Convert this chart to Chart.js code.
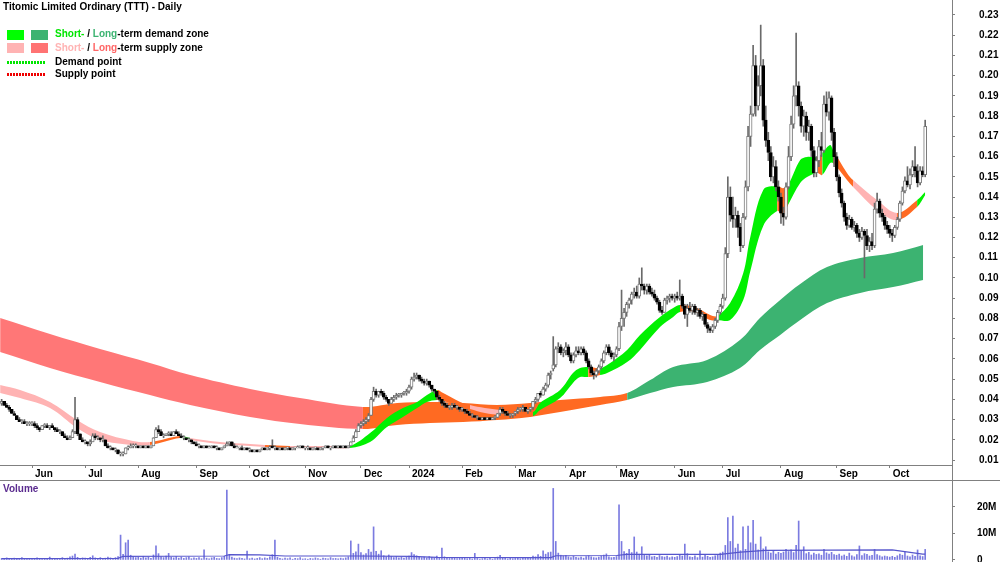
<!DOCTYPE html>
<html>
<head>
<meta charset="utf-8">
<title>Titomic Limited Ordinary (TTT) - Daily</title>
<script src="https://cdn.jsdelivr.net/npm/chart.js@4.4.0/dist/chart.umd.min.js"></script>
<style>
  body { margin: 0; background: #fff; }
  #page { position: relative; width: 1000px; height: 562px; overflow: hidden;
          font-family: "Liberation Sans", Arial, sans-serif; font-weight: bold; font-size: 10px; color: #000; }
  #priceChart { position: absolute; left: 0; top: 0; }
  #volumeChart { position: absolute; left: 0; top: 481px; }
  .rule { position: absolute; background: #808080; }
  .txt { position: absolute; white-space: nowrap; line-height: 12px; }
  .box { position: absolute; width: 17px; height: 10px; }
  .dots { position: absolute; width: 39px; height: 3px; }
</style>
</head>
<body>
<div id="page">
  <canvas id="priceChart" width="1000" height="480"></canvas>
  <canvas id="volumeChart" width="1000" height="81"></canvas>
  <div class="rule" style="left:0;top:480px;width:1000px;height:1px"></div>
  <div class="rule" style="left:952px;top:465px;width:1px;height:15px"></div>

  <div class="txt" style="left:3px;top:1px">Titomic Limited Ordinary (TTT) - Daily</div>
  <div class="box" style="left:7px;top:30px;background:#00ff00"></div>
  <div class="box" style="left:31px;top:30px;background:#3cb371"></div>
  <div class="txt" style="left:55px;top:28px"><span style="color:#00e600">Short-</span> / <span style="color:#3cb371">Long</span>-term demand zone</div>
  <div class="box" style="left:7px;top:43px;background:#ffb3b3"></div>
  <div class="box" style="left:31px;top:43px;background:#ff7373"></div>
  <div class="txt" style="left:55px;top:42px"><span style="color:#ffb3b3">Short-</span> / <span style="color:#ff6666">Long</span>-term supply zone</div>
  <div class="dots" style="left:7px;top:61px;background:repeating-linear-gradient(to right,#00e600 0 2px,transparent 2px 3px)"></div>
  <div class="txt" style="left:55px;top:56px">Demand point</div>
  <div class="dots" style="left:7px;top:73px;background:repeating-linear-gradient(to right,#ee0000 0 2px,transparent 2px 3px)"></div>
  <div class="txt" style="left:55px;top:68px">Supply point</div>

  <div class="txt" style="left:3px;top:483px;color:#5b2c8f">Volume</div>
</div>

<script>
// month axis: first trading day of each month, counted from 1 Jun 2023
const monthLabels = ['Jun', 'Jul', 'Aug', 'Sep', 'Oct', 'Nov', 'Dec', '2024', 'Feb', 'Mar', 'Apr', 'May', 'Jun', 'Jul', 'Aug', 'Sep', 'Oct'];
const monthStart = [0, 21, 42, 65, 86, 108, 130, 149, 170, 191, 211, 231, 254, 273, 296, 318, 339];
const priceTicks = [0.01, 0.02, 0.03, 0.04, 0.05, 0.06, 0.07, 0.08, 0.09, 0.10, 0.11, 0.12,
                    0.13, 0.14, 0.15, 0.16, 0.17, 0.18, 0.19, 0.20, 0.21, 0.22, 0.23];
const volumeTicks = [0, 10, 20];
const firstDay = -12;

// daily candles [open, high, low, close]
const ohlc = [
  // mid/late May 2023
  [.038,.040,.037,.039],[.039,.039,.037,.037],[.037,.038,.036,.036],[.036,.037,.034,.035],
  [.035,.035,.033,.033],[.033,.034,.032,.032],[.032,.032,.030,.030],[.030,.031,.029,.029],
  [.029,.030,.028,.029],[.029,.030,.028,.028],[.028,.029,.027,.028],[.028,.029,.027,.028],
  // Jun
  [.028,.029,.027,.028],[.028,.029,.026,.027],[.027,.028,.025,.026],[.026,.026,.024,.025],
  [.025,.027,.025,.027],[.027,.028,.026,.027],[.027,.028,.026,.026],[.026,.027,.025,.027],
  [.027,.028,.026,.026],[.026,.026,.024,.025],[.025,.026,.024,.024],[.024,.025,.023,.024],
  [.024,.024,.022,.022],[.022,.023,.021,.021],[.021,.022,.020,.020],[.020,.022,.020,.021],
  [.021,.025,.021,.024],[.024,.041,.023,.030],[.030,.031,.022,.023],[.023,.023,.020,.020],
  [.020,.021,.019,.019],
  // Jul
  [.019,.020,.018,.019],[.019,.019,.017,.018],[.018,.020,.017,.019],[.019,.023,.019,.022],
  [.022,.023,.020,.021],[.021,.022,.020,.021],[.021,.021,.019,.020],[.020,.022,.019,.020],
  [.020,.020,.017,.017],[.017,.018,.016,.016],[.016,.017,.015,.016],[.016,.016,.015,.015],
  [.015,.016,.014,.015],[.015,.015,.013,.013],[.013,.014,.012,.013],[.013,.014,.012,.013],
  [.013,.016,.013,.016],[.016,.017,.015,.016],[.016,.018,.016,.017],[.017,.018,.016,.017],
  [.017,.018,.016,.017],
  // Aug
  [.017,.017,.016,.016],[.016,.017,.016,.017],[.017,.017,.016,.016],[.016,.017,.016,.017],
  [.017,.017,.016,.016],[.016,.017,.016,.017],[.017,.021,.017,.021],[.021,.026,.021,.025],
  [.025,.027,.023,.024],[.024,.025,.022,.022],[.022,.023,.021,.022],[.022,.023,.022,.023],
  [.023,.024,.022,.023],[.023,.024,.022,.022],[.022,.024,.022,.024],[.024,.025,.023,.023],
  [.023,.024,.022,.022],[.022,.023,.021,.021],[.021,.022,.020,.021],[.021,.021,.020,.020],
  [.020,.021,.019,.020],[.020,.020,.018,.019],[.019,.019,.018,.018],
  // Sep
  [.018,.019,.017,.017],[.017,.018,.016,.017],[.017,.017,.016,.016],[.016,.017,.016,.017],
  [.017,.017,.016,.016],[.016,.017,.016,.016],[.016,.017,.016,.017],[.017,.017,.016,.016],
  [.016,.017,.015,.016],[.016,.016,.015,.015],[.015,.016,.015,.016],[.016,.017,.016,.017],
  [.017,.019,.017,.018],[.018,.019,.017,.019],[.019,.019,.017,.017],[.017,.018,.016,.016],
  [.016,.017,.016,.016],[.016,.016,.015,.016],[.016,.017,.015,.015],[.015,.016,.015,.016],
  [.016,.016,.015,.015],
  // Oct
  [.015,.016,.014,.015],[.015,.015,.014,.014],[.014,.015,.014,.015],[.015,.015,.014,.014],
  [.014,.015,.014,.015],[.015,.016,.015,.016],[.016,.016,.015,.015],[.015,.016,.015,.016],
  [.016,.017,.015,.016],[.017,.020,.016,.016],[.016,.017,.015,.016],[.016,.016,.015,.015],
  [.015,.016,.015,.016],[.016,.016,.015,.015],[.015,.016,.015,.016],[.016,.016,.015,.016],
  [.016,.016,.015,.015],[.015,.016,.015,.016],[.016,.016,.015,.016],[.016,.017,.016,.016],
  [.016,.017,.016,.017],[.017,.017,.016,.016],
  // Nov
  [.016,.016,.015,.016],[.016,.017,.015,.016],[.016,.016,.015,.015],[.015,.016,.015,.016],
  [.016,.016,.015,.016],[.016,.016,.015,.015],[.015,.016,.015,.016],[.016,.016,.015,.016],
  [.016,.017,.016,.017],[.017,.017,.016,.016],[.016,.016,.015,.016],[.016,.017,.016,.017],
  [.017,.017,.016,.016],[.016,.017,.016,.017],[.017,.017,.016,.016],[.016,.017,.016,.017],
  [.017,.017,.016,.016],[.016,.017,.016,.017],[.017,.019,.017,.019],[.019,.022,.019,.021],
  [.021,.025,.021,.024],[.024,.028,.024,.027],
  // Dec
  [.027,.029,.026,.028],[.028,.030,.027,.029],[.029,.031,.028,.030],[.030,.033,.029,.032],
  [.032,.041,.032,.040],[.040,.046,.039,.044],[.044,.045,.041,.042],[.042,.044,.041,.044],
  [.044,.045,.042,.043],[.043,.044,.040,.041],[.041,.042,.039,.040],[.040,.040,.037,.038],
  [.038,.041,.038,.040],[.040,.042,.039,.041],[.041,.043,.040,.042],[.042,.043,.041,.042],
  [.042,.043,.041,.043],[.043,.044,.042,.043],[.043,.045,.042,.044],
  // Jan 2024
  [.044,.047,.043,.046],[.046,.051,.045,.050],[.050,.053,.049,.051],[.051,.053,.050,.052],
  [.052,.052,.049,.050],[.050,.051,.048,.049],[.049,.050,.047,.048],[.048,.050,.047,.049],
  [.049,.049,.046,.047],[.047,.047,.044,.045],[.045,.045,.043,.044],[.044,.044,.040,.041],
  [.041,.042,.039,.040],[.040,.040,.037,.038],[.038,.039,.036,.037],[.037,.038,.036,.036],
  [.036,.037,.035,.036],[.036,.038,.035,.037],[.037,.038,.036,.036],[.036,.037,.035,.036],
  [.036,.036,.034,.035],
  // Feb
  [.035,.036,.034,.035],[.035,.035,.033,.034],[.034,.035,.033,.033],[.033,.034,.032,.032],
  [.032,.033,.031,.032],[.032,.032,.031,.031],[.031,.032,.030,.031],[.031,.031,.030,.030],
  [.030,.031,.030,.031],[.031,.031,.030,.030],[.030,.031,.030,.031],[.031,.031,.030,.030],
  [.030,.031,.030,.031],[.031,.032,.030,.031],[.031,.033,.031,.033],[.033,.036,.032,.035],
  [.035,.036,.033,.034],[.034,.034,.032,.033],[.033,.034,.032,.032],[.032,.033,.031,.032],
  [.032,.033,.031,.033],
  // Mar
  [.033,.034,.032,.034],[.034,.036,.033,.035],[.035,.036,.034,.035],[.035,.037,.034,.036],
  [.036,.036,.034,.034],[.034,.035,.033,.035],[.035,.036,.034,.036],[.036,.039,.035,.039],
  [.039,.041,.038,.040],[.040,.043,.039,.043],[.043,.044,.041,.042],[.042,.046,.042,.045],
  [.045,.048,.044,.047],[.047,.053,.046,.052],[.052,.054,.050,.053],[.055,.071,.054,.057],
  [.057,.066,.056,.065],[.065,.068,.063,.066],[.066,.067,.062,.063],[.063,.065,.061,.064],
  // Apr
  [.064,.068,.062,.066],[.066,.067,.061,.062],[.062,.063,.058,.059],[.059,.063,.058,.062],
  [.062,.066,.061,.064],[.064,.066,.062,.063],[.063,.066,.062,.065],[.065,.066,.062,.063],
  [.063,.064,.058,.059],[.059,.060,.055,.056],[.056,.057,.052,.053],[.053,.054,.050,.052],
  [.052,.055,.051,.054],[.054,.057,.053,.056],[.056,.060,.055,.059],[.059,.064,.058,.063],
  [.063,.067,.062,.066],[.066,.067,.062,.063],[.063,.064,.060,.061],[.061,.063,.059,.062],
  // May
  [.062,.066,.061,.065],[.065,.078,.064,.076],[.076,.094,.074,.080],[.080,.085,.076,.083],
  [.083,.088,.081,.087],[.087,.090,.085,.089],[.089,.093,.087,.092],[.092,.095,.090,.093],
  [.093,.096,.090,.091],[.091,.100,.090,.097],[.097,.105,.094,.096],[.096,.097,.092,.094],
  [.094,.097,.092,.096],[.096,.097,.092,.093],[.093,.095,.091,.092],[.092,.094,.089,.090],
  [.090,.091,.087,.088],[.088,.089,.083,.084],[.084,.086,.082,.083],[.083,.090,.083,.089],
  [.089,.091,.087,.090],[.090,.092,.088,.091],[.091,.092,.089,.090],
  // Jun
  [.090,.092,.088,.091],[.091,.093,.089,.090],[.090,.099,.089,.091],[.091,.092,.085,.086],
  [.086,.087,.080,.082],[.082,.087,.076,.085],[.085,.088,.083,.084],[.084,.087,.082,.086],
  [.086,.087,.082,.083],[.083,.085,.081,.084],[.084,.085,.080,.081],[.081,.083,.079,.082],
  [.082,.082,.076,.077],[.077,.078,.073,.075],[.075,.076,.073,.074],[.074,.077,.073,.076],
  [.076,.080,.075,.079],[.079,.084,.078,.083],[.083,.087,.082,.086],
  // Jul
  [.086,.092,.085,.090],[.090,.115,.089,.112],[.112,.150,.110,.140],[.140,.145,.128,.131],
  [.131,.140,.125,.129],[.129,.135,.125,.131],[.131,.133,.120,.125],[.125,.127,.113,.116],
  [.116,.132,.115,.130],[.130,.148,.129,.145],[.145,.175,.143,.170],[.170,.185,.165,.181],
  [.181,.215,.180,.205],[.205,.210,.180,.185],[.185,.200,.183,.195],[.195,.225,.190,.205],
  [.205,.208,.175,.178],[.178,.185,.165,.168],[.168,.172,.158,.162],[.162,.165,.148,.150],
  [.150,.160,.147,.155],[.155,.158,.143,.145],[.145,.148,.138,.140],
  // Aug
  [.140,.142,.127,.132],[.132,.135,.126,.130],[.130,.147,.129,.145],[.145,.165,.144,.160],
  [.160,.180,.158,.176],[.176,.195,.174,.190],[.190,.221,.185,.195],[.195,.197,.180,.185],
  [.185,.187,.172,.175],[.175,.183,.170,.180],[.180,.182,.168,.172],[.172,.178,.168,.175],
  [.175,.176,.160,.163],[.163,.165,.150,.152],[.152,.160,.150,.158],[.158,.168,.155,.165],
  [.165,.172,.160,.163],[.163,.190,.162,.186],[.186,.192,.180,.182],[.182,.192,.178,.189],
  [.189,.190,.168,.172],[.172,.174,.155,.160],
  // Sep
  [.160,.162,.148,.150],[.150,.151,.140,.142],[.142,.144,.135,.137],[.137,.138,.128,.130],
  [.130,.132,.124,.126],[.126,.131,.125,.129],[.129,.130,.124,.125],[.125,.128,.123,.126],
  [.126,.127,.120,.122],[.122,.124,.118,.120],[.120,.125,.119,.123],[.123,.124,.100,.121],
  [.121,.124,.114,.116],[.116,.120,.113,.118],[.118,.122,.114,.116],[.116,.137,.115,.134],
  [.134,.142,.132,.138],[.138,.139,.130,.132],[.132,.134,.128,.130],[.130,.131,.124,.126],
  [.126,.128,.122,.124],
  // Oct
  [.124,.126,.120,.122],[.122,.124,.118,.121],[.121,.126,.120,.125],[.125,.130,.124,.129],
  [.129,.138,.128,.137],[.137,.145,.136,.143],[.143,.150,.142,.148],[.148,.155,.145,.146],
  [.146,.154,.144,.151],[.151,.158,.150,.155],[.155,.165,.150,.153],[.153,.156,.145,.147],
  [.147,.155,.146,.153],[.153,.155,.150,.151],[.151,.178,.150,.175]
];

// daily volume, millions of shares
const volume = [
  0.6,0.4,0.8,0.5,0.3,0.7,0.4,0.5,0.9,0.3,0.4,0.6,
  0.5,0.3,0.8,0.4,0.6,0.3,0.5,1.1,0.4,0.3,0.6,0.5,0.9,0.4,0.7,1.2,1.5,2.2,1.0,0.6,0.8,
  0.7,0.5,1.0,1.6,0.8,0.6,0.9,0.5,0.7,1.1,0.8,0.6,0.9,1.3,9.4,2.1,6.5,7.5,1.8,1.2,0.9,
  1.0,0.7,1.4,0.8,1.1,0.6,1.9,5.3,2.4,1.2,0.9,1.5,2.5,1.0,0.8,1.3,0.7,1.1,0.6,0.9,1.2,0.5,0.8,
  0.6,0.9,0.5,3.8,0.7,0.4,0.8,1.0,0.6,0.5,0.9,1.4,26.4,2.0,1.1,0.7,0.5,0.8,0.6,0.4,3.4,
  0.5,0.7,0.4,0.6,0.9,0.5,0.8,0.6,1.2,2.0,7.5,1.0,0.6,0.4,0.7,0.5,0.8,0.3,0.6,0.5,0.9,0.4,
  0.5,0.3,0.6,0.4,0.8,0.5,0.3,0.7,0.6,0.4,0.9,0.5,0.6,0.4,0.7,0.5,0.8,1.2,7.2,2.5,3.1,6.0,
  2.8,1.9,2.4,4.0,3.0,12.5,3.3,2.2,3.5,1.6,1.2,1.9,1.4,0.9,1.3,0.8,1.1,0.7,1.0,
  1.5,2.8,2.0,1.6,1.2,0.9,1.1,0.8,1.3,1.0,0.7,1.5,0.9,4.5,1.2,0.8,0.6,1.0,0.7,0.5,0.8,
  0.6,0.9,0.5,0.7,0.4,2.5,0.6,0.3,0.5,0.8,0.4,0.6,0.3,0.5,1.1,1.8,0.9,0.6,0.4,0.7,0.5,
  0.6,0.8,0.5,0.9,0.7,0.6,1.0,1.5,1.2,2.0,1.4,3.5,2.2,2.8,3.0,27.0,7.0,2.6,1.8,1.5,
  1.8,1.2,0.9,1.4,1.0,0.8,1.1,0.7,1.3,1.6,1.2,0.9,0.8,1.1,1.5,1.9,2.3,1.2,0.9,1.0,
  1.3,20.8,7.0,3.2,2.5,4.0,2.8,8.7,3.0,2.2,5.0,2.0,1.6,1.9,1.2,1.4,1.0,1.7,1.3,1.1,1.5,0.9,1.2,
  1.0,1.3,2.1,1.5,6.0,2.4,1.2,1.0,1.6,0.9,3.5,1.1,1.8,1.4,1.0,1.2,1.6,2.0,2.6,
  3.0,5.5,16.0,7.0,16.6,4.5,6.0,3.5,12.5,4.0,12.8,6.5,15.0,6.0,3.8,8.7,4.2,5.0,3.1,2.6,3.4,2.2,2.9,
  2.5,3.0,4.0,3.2,3.8,2.8,5.5,14.7,3.6,5.0,2.4,2.9,1.9,2.6,2.1,2.3,1.8,4.0,2.7,2.2,2.9,2.0,
  1.8,2.2,1.5,1.9,1.4,2.6,1.6,1.2,2.0,5.3,1.7,2.4,2.1,1.5,1.8,4.0,2.0,1.6,1.2,1.5,1.3,
  1.1,1.4,1.0,1.6,2.2,1.8,3.0,1.5,1.2,1.9,1.4,3.8,1.6,1.3,4.0
];

// volume average line
const volAvgDay   = [-12, 34, 36, 76, 78, 90, 100, 128, 150, 160, 205, 207, 231, 235, 272, 280, 290, 340, 352, 353];
const volAvgValue = [0.5, 0.6, 1.4, 1.5, 2.0, 1.9, 1.5, 1.5, 1.4, 1.0, 0.9, 1.6, 1.7, 2.1, 2.1, 3.0, 3.6, 3.8, 2.2, 2.2];

// short-term zone (upper/lower edge); zone letter applies to the stretch starting at that point
const shortDay = [-12.6, -4.7, 7.1, 17.8, 26.9, 39.9, 46.6, 58.5, 62.5, 74.3, 86.2, 92.1, 102, 117.8, 125.7,
  133.6, 140.3, 146.6, 152.2, 156.1, 160.1, 162.5, 169.2, 173.1, 179, 185, 191, 198, 200.8, 208.7, 213.8,
  216.6, 219.8, 224.5, 227.3, 235.2, 240.3, 248.2, 253.4, 256.1, 262, 268, 270.8, 275.9, 281.1, 283.8, 289,
  294.5, 296.8, 298.8, 303.6, 306.3, 310.3, 312.3, 315.4, 316.6, 322.1, 324.5, 334, 341.9, 349.8, 353];
const shortUpper = [.0471, .0446, .0387, .0298, .0238, .0194, .0189, .0219, .0209, .0189, .0179, .0174, .0169, .0169, .0169,
  .0233, .0308, .0357, .0387, .0421, .0446, .0431, .0387, .0372, .0357, .0347, .0337, .0337, .0382, .0446, .053,
  .0555, .056, .0555, .057, .0644, .0718, .0807, .0851, .0866, .0856, .0817, .0812, .0876, .1024, .1198, .1435,
  .1454, .1444, .1459, .1583, .1598, .1598, .1618, .1657, .1632, .1519, .1484, .1385, .1321, .1385, .1425];
const shortLower = [.0431, .0406, .0357, .0258, .0199, .0174, .0174, .0209, .0199, .0179, .0169, .0164, .0159, .0159, .0159,
  .0189, .0263, .0313, .0357, .0387, .0397, .0392, .0367, .0352, .0332, .0322, .0317, .0317, .0347, .0406, .0481,
  .051, .051, .052, .053, .0584, .0644, .0757, .0807, .0832, .0832, .0792, .0792, .0792, .0891, .1029, .1257,
  .1331, .1311, .1361, .1469, .1499, .1519, .1509, .1568, .1568, .1484, .145, .1336, .1286, .1351, .141];
const shortZone = ['S','S','S','S','S','S','N','D','S','S','S','N','S','S','D',
  'D','D','D','D','D','N','N','N','S','S','N','N','D','D','D','D',
  'D','N','D','D','D','D','D','D','N','N','N','D','D','D','D','D',
  'N','N','D','D','D','N','D','D','N','N','S','S','N','D','D'];

// long-term zone
const longDay = [-12.6, 7.1, 26.9, 46.6, 62.5, 86.2, 105.9, 130.8, 144.3, 157.3, 170.4, 183.8, 196.8, 208.7,
  224.5, 235.2, 244.3, 253.4, 266.8, 279.8, 287.7, 295.7, 303.6, 314.2, 327.3, 340.3, 352.2];
const longUpper = [.0802, .0723, .0649, .058, .052, .0451, .0406, .0362, .0382, .0387, .0382, .0372, .0382, .0397,
  .0412, .0431, .0495, .056, .0594, .0693, .0802, .0891, .097, .1054, .1099, .1123, .1163];
const longLower = [.0634, .0555, .0486, .0421, .0372, .0313, .0278, .0253, .0273, .0283, .0288, .0298, .0313, .0337,
  .0372, .0397, .0431, .0461, .0486, .0555, .0644, .0718, .0792, .0876, .0926, .0955, .099];
const longZone = ['S','S','S','S','S','S','S','N','N','N','N','N','N','N',
  'N','D','D','D','D','D','D','D','D','D','D','D','D'];

const shortColors = { S: '#ffb3b3', D: '#00f000', N: '#ff6a22' };
const longColors  = { S: '#ff7777', D: '#3cb371', N: '#ff6a22' };
const FONT = { family: '"Liberation Sans", Arial, sans-serif', size: 10, weight: 'bold' };

function points(xs, ys) {
  return xs.map((x, k) => ({ x: x, y: ys[k] }));
}

// keep the axes from shrinking the plot area for their labels
function fixedAxis(width, height) {
  return s => {
    if (width !== null) s.width = width;
    if (height !== null) s.height = height;
    s.paddingTop = 0; s.paddingBottom = 0; s.paddingLeft = 0; s.paddingRight = 0;
  };
}

const wicks = ohlc.map((r, k) => ({ x: firstDay + k, y: [r[2], r[1]] }));
const bodies = ohlc.map((r, k) => ({ x: firstDay + k, y: [r[0], r[3]] }));
const rising = ohlc.map(r => r[3] >= r[0]);

function bandLine(xs, ys, order) {
  return { type: 'line', data: points(xs, ys), order: order, borderWidth: 0, pointRadius: 0,
           tension: 0.35, fill: false };
}
function bandFill(xs, ys, zones, colors, order) {
  return { type: 'line', data: points(xs, ys), order: order, borderWidth: 0, pointRadius: 0,
           tension: 0.35, fill: '-1', backgroundColor: colors[zones[0]],
           segment: { backgroundColor: c => colors[zones[c.p0DataIndex]] } };
}

new Chart(document.getElementById('priceChart'), {
  type: 'bar',
  data: {
    datasets: [
      { data: bodies, order: 0, grouped: false, barThickness: 3, minBarLength: 1, borderSkipped: false,
        borderWidth: 1,
        backgroundColor: rising.map(u => u ? '#ffffff' : '#000000'),
        borderColor: rising.map(u => u ? '#7a7a7a' : '#000000') },
      { data: wicks, order: 1, grouped: false, barThickness: 1, backgroundColor: '#6a6a6a' },
      bandLine(shortDay, shortUpper, 2),
      bandFill(shortDay, shortLower, shortZone, shortColors, 3),
      bandLine(longDay, longUpper, 4),
      bandFill(longDay, longLower, longZone, longColors, 5)
    ]
  },
  options: {
    responsive: false,
    animation: false,
    layout: { padding: 0, autoPadding: false },
    plugins: { legend: { display: false }, tooltip: { enabled: false } },
    scales: {
      x: {
        type: 'linear', min: -12.65, max: 363.6, offset: false, bounds: 'data',
        grid: { drawOnChartArea: false, tickLength: 3, color: '#808080', offset: false },
        border: { color: '#808080' },
        ticks: { align: 'start', labelOffset: 3, padding: 0, autoSkip: false, maxRotation: 0,
                 font: FONT, color: '#000', callback: (v, i) => monthLabels[i] },
        afterBuildTicks: s => { s.ticks = monthStart.map(v => ({ value: v })); },
        afterFit: fixedAxis(null, 15)
      },
      y: {
        position: 'right', min: 0.00753, max: 0.2374, bounds: 'data',
        grid: { drawOnChartArea: false, tickLength: 3, color: '#808080' },
        border: { color: '#808080' },
        ticks: { padding: 24, font: FONT, color: '#000', callback: v => v.toFixed(2) },
        afterBuildTicks: s => { s.ticks = priceTicks.map(v => ({ value: v })); },
        afterFit: fixedAxis(48, null)
      }
    }
  }
});

new Chart(document.getElementById('volumeChart'), {
  type: 'bar',
  data: {
    datasets: [
      { type: 'line', data: points(volAvgDay, volAvgValue), order: 0, borderColor: '#5555cc',
        borderWidth: 1.2, pointRadius: 0, tension: 0 },
      { data: volume.map((v, k) => ({ x: firstDay + k, y: v })), order: 1, grouped: false,
        barThickness: 1, backgroundColor: '#7b7be0' }
    ]
  },
  options: {
    responsive: false,
    animation: false,
    layout: { padding: 0, autoPadding: false },
    plugins: { legend: { display: false }, tooltip: { enabled: false } },
    scales: {
      x: { type: 'linear', min: -12.65, max: 363.6, offset: false, bounds: 'data', display: false },
      y: {
        position: 'right', min: -0.755, max: 29.8, bounds: 'data',
        grid: { drawOnChartArea: false, tickLength: 3, color: '#808080' },
        border: { color: '#808080' },
        ticks: { padding: 22, font: FONT, color: '#000', callback: v => v === 0 ? '0' : v + 'M' },
        afterBuildTicks: s => { s.ticks = volumeTicks.map(v => ({ value: v })); },
        afterFit: fixedAxis(48, null)
      }
    }
  }
});
</script>
</body>
</html>
